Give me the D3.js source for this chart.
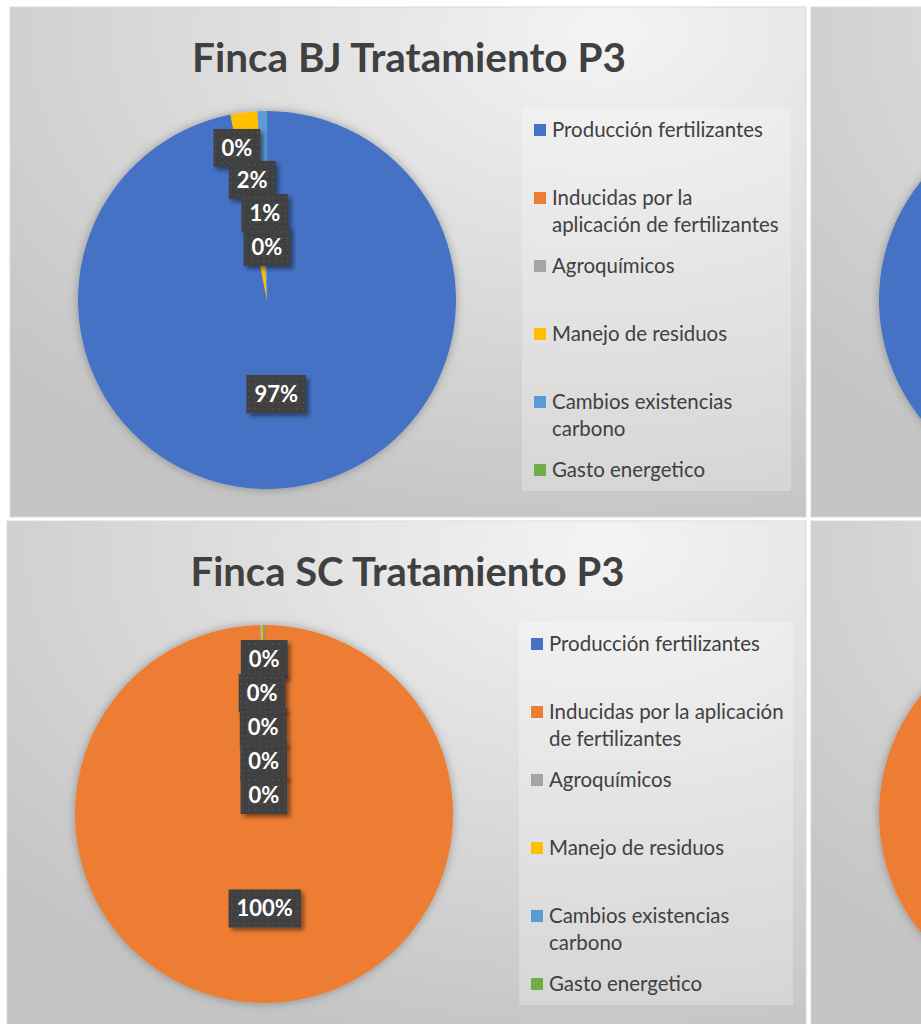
<!DOCTYPE html>
<html>
<head>
<meta charset="utf-8">
<script src="https://cdn.jsdelivr.net/npm/d3@7"></script>
<style>
  body { margin: 0; background: #fff; }
  svg { display: block; }
</style>
</head>
<body>
<script>
const categories = [
  "Producción fertilizantes",
  "Inducidas por la aplicación de fertilizantes",
  "Agroquímicos",
  "Manejo de residuos",
  "Cambios existencias carbono",
  "Gasto energetico"
];
const colors = ["#4472C4", "#ED7D31", "#A5A5A5", "#FFC000", "#5B9BD5", "#70AD47"];

// shares in %, null = empty cell (no label)
const bjP3 = [96.9, 0.0, null, 2.3, 0.8, 0.0];
const scP3 = [0.05, 99.65, 0.1, 0.1, 0.0, 0.1];
// the charts to the right are cut off, only the left edge of their pies shows
const bjRight = [96.9, 0.0, null, 2.3, 0.8, 0.0];
const scRight = [0.05, 99.65, 0.1, 0.1, 0.0, 0.1];

const panels = [
  { x: 10, y: 7, w: 796, h: 510, title: "Finca BJ Tratamiento P3", values: bjP3, wrap: 232, legW: 269, full: true },
  { x: 7, y: 521, w: 799, h: 510, title: "Finca SC Tratamiento P3", values: scP3, wrap: 246, legW: 274, full: true },
  { x: 811, y: 7, w: 796, h: 510, values: bjRight, full: false },
  { x: 811, y: 521, w: 796, h: 510, values: scRight, full: false }
];

const width = 921;
const height = 1024;

const svg = d3.select("body").append("svg")
  .attr("width", width)
  .attr("height", height);

const defs = svg.append("defs");

const grad = defs.append("radialGradient")
  .attr("id", "bg")
  .attr("cx", 0.75).attr("cy", 0.05).attr("r", 1);
grad.append("stop").attr("offset", 0).attr("stop-color", "#f4f4f4");
grad.append("stop").attr("offset", 1).attr("stop-color", "#c4c4c4");

const dots = defs.append("pattern")
  .attr("id", "dots")
  .attr("width", 6).attr("height", 6)
  .attr("patternUnits", "userSpaceOnUse");
dots.append("rect").attr("width", 6).attr("height", 6).attr("fill", "#404040");
dots.append("rect").attr("x", 2).attr("y", 2).attr("width", 1.5).attr("height", 1.5).attr("fill", "#555");

const pieShadow = defs.append("filter").attr("id", "pieShadow")
  .attr("x", "-20%").attr("y", "-20%").attr("width", "140%").attr("height", "140%");
pieShadow.append("feDropShadow")
  .attr("dx", 0).attr("dy", 0).attr("stdDeviation", 5)
  .attr("flood-color", "#000").attr("flood-opacity", 0.3);

const lblShadow = defs.append("filter").attr("id", "lblShadow")
  .attr("x", "-30%").attr("y", "-30%").attr("width", "160%").attr("height", "160%");
lblShadow.append("feDropShadow")
  .attr("dx", 3).attr("dy", 3).attr("stdDeviation", 2)
  .attr("flood-color", "#000").attr("flood-opacity", 0.45);

const pct = d3.format(".0%");
const color = d3.scaleOrdinal().domain(categories).range(colors);

const measurer = svg.append("text")
  .attr("font-family", "Lato, sans-serif")
  .attr("font-size", 18)
  .attr("visibility", "hidden");
const measure = s => { measurer.text(s); return measurer.node().getComputedTextLength(); };

// Calibri in the original is wider than Lato at the same size: size legend to match
const legendFont = 18 * 211 / measure(categories[0]);
measurer.attr("font-size", legendFont);

function wrapLines(text, maxW) {
  const words = text.split(" ");
  const lines = [];
  let line = words[0];
  for (let i = 1; i < words.length; i++) {
    const test = line + " " + words[i];
    if (measure(test) > maxW) { lines.push(line); line = words[i]; }
    else line = test;
  }
  lines.push(line);
  return lines;
}

panels.forEach((p, pi) => {
  const g = svg.append("g").attr("transform", `translate(${p.x},${p.y})`);

  defs.append("clipPath").attr("id", "clip" + pi)
    .append("rect").attr("width", p.w).attr("height", p.h);

  g.append("rect")
    .attr("width", p.w).attr("height", p.h)
    .attr("fill", "url(#bg)")
    .attr("stroke", "#d9d9d9");

  const inner = g.append("g").attr("clip-path", `url(#clip${pi})`);

  // pie
  const cx = 257, cy = 293, r = 189;
  const data = categories.map((c, i) => ({ cat: c, value: p.values[i] }));
  const total = d3.sum(data, d => d.value || 0);

  const pie = d3.pie().sort(null).value(d => d.value || 0);
  const arc = d3.arc().innerRadius(0).outerRadius(r);
  const arcs = pie(data);

  const pg = inner.append("g")
    .attr("transform", `translate(${cx},${cy})`);

  pg.append("g").attr("filter", "url(#pieShadow)")
    .selectAll("path")
    .data(arcs)
    .enter()
    .append("path")
    .attr("d", arc)
    .attr("fill", d => color(d.data.cat));

  if (!p.full) return;

  // title
  const t = inner.append("text")
    .attr("x", p.w / 2 + 1)
    .attr("y", 65)
    .attr("text-anchor", "middle")
    .attr("font-family", "Lato, sans-serif")
    .attr("font-weight", "bold")
    .attr("font-size", 38)
    .attr("fill", "#404040")
    .text(p.title);
  const tw = t.node().getComputedTextLength();
  t.attr("font-size", 38 * 434 / tw);

  // data labels: large slices at the centroid, small ones stacked inward along their angle
  const labelled = arcs.filter(d => d.data.value !== null);
  let k = 0;
  labelled.forEach(d => {
    const mid = (d.startAngle + d.endAngle) / 2;
    let rad;
    if (d.value / total > 0.05) {
      rad = r * 0.5;
    } else {
      rad = r * 0.82 - k * 34;
      k++;
    }
    d.lx = Math.sin(mid) * rad;
    d.ly = -Math.cos(mid) * rad;
    d.txt = pct(d.value / total);
  });

  const lbl = pg.selectAll(".lbl")
    .data(labelled)
    .enter()
    .append("g")
    .attr("class", "lbl")
    .attr("transform", d => `translate(${d.lx},${d.ly})`);

  lbl.append("text")
    .attr("text-anchor", "middle")
    .attr("dy", "0.36em")
    .attr("font-family", "Lato, sans-serif")
    .attr("font-weight", "bold")
    .attr("font-size", 22)
    .attr("fill", "#fff")
    .text(d => d.txt)
    .each(function(d) { d.tw = this.getComputedTextLength(); });

  lbl.insert("rect", "text")
    .attr("x", d => -d.tw / 2 - 8)
    .attr("y", -19)
    .attr("width", d => d.tw + 16)
    .attr("height", 38)
    .attr("fill", "url(#dots)")
    .attr("filter", "url(#lblShadow)");

  // legend
  const lg = inner.append("g").attr("transform", "translate(512,101)");
  lg.append("rect")
    .attr("width", p.legW)
    .attr("height", 383)
    .attr("fill", "#fff")
    .attr("fill-opacity", 0.25);

  const item = lg.selectAll(".item")
    .data(categories)
    .enter()
    .append("g")
    .attr("class", "item")
    .attr("transform", (d, i) => `translate(12,${22 + i * 68})`);

  item.append("rect")
    .attr("x", 0).attr("y", -6)
    .attr("width", 12).attr("height", 12)
    .attr("fill", d => color(d));

  item.append("text")
    .attr("x", 18)
    .attr("font-family", "Lato, sans-serif")
    .attr("font-size", legendFont)
    .attr("fill", "#404040")
    .each(function(d) {
      const lines = wrapLines(d, p.wrap);
      d3.select(this).selectAll("tspan")
        .data(lines)
        .enter()
        .append("tspan")
        .attr("x", 18)
        .attr("y", (l, j) => j * 27)
        .attr("dy", "0.35em")
        .text(l => l);
    });
});

measurer.remove();
</script>
</body>
</html>
